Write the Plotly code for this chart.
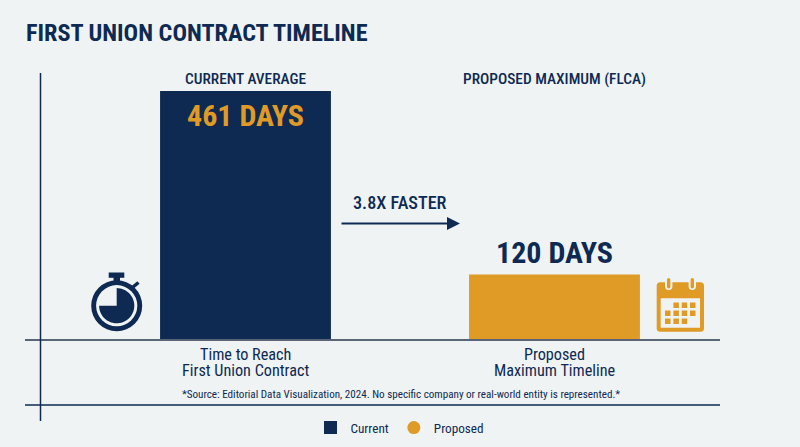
import numpy as np
import plotly.graph_objects as go

# ---- data ----
categories = ["Time to Reach First Union Contract", "Proposed Maximum Timeline"]
category_lines = [["Time to Reach", "First Union Contract"], ["Proposed", "Maximum Timeline"]]
days = [461, 120]
value_labels = ["461 DAYS", "120 DAYS"]
series_names = ["Current", "Proposed"]
headers = ["CURRENT AVERAGE", "PROPOSED MAXIMUM (FLCA)"]
title_text = "FIRST UNION CONTRACT TIMELINE"
speed_label = "3.8X FASTER"
source_text = "*Source: Editorial Data Visualization, 2024. No specific company or real-world entity is represented.*"

# ---- style ----
NAVY = "#0e2a52"
GOLD = "#e09a26"
BG = "#eff3f4"
RULE = "#5a6474"
FONT = "Roboto Condensed, sans-serif"
W, H = 800, 447
L, R, T, B = 25, 720, 60, 339


def px(x):
    return (x - L) / (R - L)


def py(y):
    return (B - y) / (B - T)


def P(x, y):
    return f"{px(x):.5f},{py(y):.5f}"


shapes = []


def add(**kw):
    kw.setdefault("layer", "above")
    shapes.append(dict(xref="paper", yref="paper", **kw))


def rect(x0, y0, x1, y1, color):
    add(type="rect", x0=px(x0), x1=px(x1), y0=py(y0), y1=py(y1),
        fillcolor=color, line=dict(width=0))


def circle(cx, cy, r, color):
    add(type="circle", x0=px(cx - r), x1=px(cx + r), y0=py(cy + r), y1=py(cy - r),
        fillcolor=color, line=dict(width=0))


def line(x0, y0, x1, y1, color, width):
    add(type="line", x0=px(x0), x1=px(x1), y0=py(y0), y1=py(y1),
        line=dict(color=color, width=width))


def rounded(x0, y0, x1, y1, r, color):
    d = (f"M{P(x0 + r, y0)} L{P(x1 - r, y0)} Q{P(x1, y0)} {P(x1, y0 + r)} "
         f"L{P(x1, y1 - r)} Q{P(x1, y1)} {P(x1 - r, y1)} "
         f"L{P(x0 + r, y1)} Q{P(x0, y1)} {P(x0, y1 - r)} "
         f"L{P(x0, y0 + r)} Q{P(x0, y0)} {P(x0 + r, y0)} Z")
    add(type="path", path=d, fillcolor=color, line=dict(width=0))


# frame rules
line(40.5, 73, 40.5, 421, NAVY, 1.5)
line(25, 405, 720, 405, NAVY, 1.5)

# stopwatch icon
cx, cy = 116.7, 305.7
rect(108.7, 272.5, 124.3, 277.8, NAVY)
rect(113.5, 277, 120, 284, NAVY)
line(133, 287, 138.5, 282.5, NAVY, 3.5)
circle(cx, cy, 25.5, NAVY)
circle(cx, cy, 20.6, BG)
theta = np.linspace(0, 1.5 * np.pi, 50)
pts = [(cx + 17.6 * np.sin(t), cy - 17.6 * np.cos(t)) for t in theta]
add(type="path",
    path=f"M{P(cx, cy)} " + " ".join("L" + P(a, b) for a, b in pts) + " Z",
    fillcolor=NAVY, line=dict(width=0))

# calendar icon
rounded(656.7, 282.3, 704, 331.7, 3.5, GOLD)
rect(660.7, 298.3, 700, 327.7, BG)
for rx in (668.7, 692.3):
    rounded(rx - 3.7, 277, rx + 3.7, 290, 3.7, BG)
    rounded(rx - 1.7, 278, rx + 1.7, 288.5, 1.7, GOLD)
for sy, cols in ((302.5, (673.4, 681.7, 690)),
                 (310.5, (665, 673.4, 681.7, 690)),
                 (318.5, (665, 673.4, 681.7))):
    for sx in cols:
        rect(sx, sy, sx + 5.5, sy + 5.5, GOLD)

annotations = [
    dict(x=categories[0], xref="x", y=py(79), text=headers[0],
         font=dict(size=15.4, color=NAVY, family=FONT, weight=500)),
    dict(x=categories[1], xref="x", y=py(79), text=headers[1],
         font=dict(size=15.4, color=NAVY, family=FONT, weight=500)),
    dict(x=px(400), xref="paper", y=py(202.5), text=speed_label,
         font=dict(size=18.2, color=NAVY, family=FONT, weight=500)),
    dict(x=px(400.5), xref="paper", y=py(394), text=source_text,
         font=dict(size=11.1, color=NAVY, family=FONT)),
]
for cat, lines in zip(categories, category_lines):
    for ln, ypix in zip(lines, (354, 370)):
        annotations.append(dict(x=cat, xref="x", y=py(ypix), text=ln,
                                font=dict(size=16.2, color=NAVY, family=FONT)))
for a in annotations:
    a.update(yref="paper", showarrow=False, xanchor="center", yanchor="middle")
# value labels anchored to the bars' own values
for cat, val, lab, col, shift in zip(categories, days, value_labels, [GOLD, NAVY], [-24, 22]):
    annotations.append(dict(
        x=cat, xref="x", y=val, yref="y", yshift=shift, text=lab, showarrow=False,
        xanchor="center", yanchor="middle",
        font=dict(size=30, color=col, family=FONT, weight="bold"),
    ))
annotations.append(dict(
    xref="paper", yref="paper", axref="pixel", ayref="pixel",
    x=px(460), y=py(223.5), ax=-120, ay=0, text="", showarrow=True,
    arrowhead=2, arrowsize=1.3, arrowwidth=2, arrowcolor=NAVY,
))

fig = go.Figure()
fig.add_trace(go.Bar(
    x=categories, y=days, width=0.553,
    marker=dict(color=[NAVY, GOLD], line=dict(width=0)),
    cliponaxis=False, showlegend=False, hoverinfo="skip",
))
for name, color, symbol in zip(series_names, [NAVY, GOLD], ["square", "circle"]):
    fig.add_trace(go.Scatter(
        x=[None], y=[None], mode="markers", name=name,
        marker=dict(color=color, symbol=symbol, size=13),
    ))

fig.update_layout(
    width=W, height=H, autosize=False,
    paper_bgcolor=BG, plot_bgcolor=BG,
    margin=dict(l=L, r=W - R, t=T, b=H - B, pad=0),
    font=dict(family=FONT, color=NAVY, size=16),
    title=dict(text=title_text, x=26 / W, xanchor="left", y=1 - 33 / H, yanchor="middle",
               font=dict(size=24.2, color=NAVY, family=FONT, weight="bold")),
    showlegend=True,
    legend=dict(orientation="h", xref="container", yref="container",
                x=0.5, y=1 - 428 / H, xanchor="center", yanchor="middle",
                font=dict(size=13.2, color=NAVY), bgcolor="rgba(0,0,0,0)"),
    shapes=shapes, annotations=annotations,
)
fig.update_xaxes(
    type="category", categoryorder="array", categoryarray=categories,
    range=[(L - 245.5) / 309, (R - 245.5) / 309],
    showline=True, linecolor=RULE, linewidth=2, ticks="", showgrid=False, zeroline=False,
    showticklabels=False, fixedrange=True,
)
fig.update_yaxes(range=[0, (B - T) / (B - 91) * 461], visible=False, fixedrange=True)

fig.write_html("out.html", config=dict(displayModeBar=False),
               post_script="document.body.style.margin='0';document.body.style.background='%s';" % BG)
